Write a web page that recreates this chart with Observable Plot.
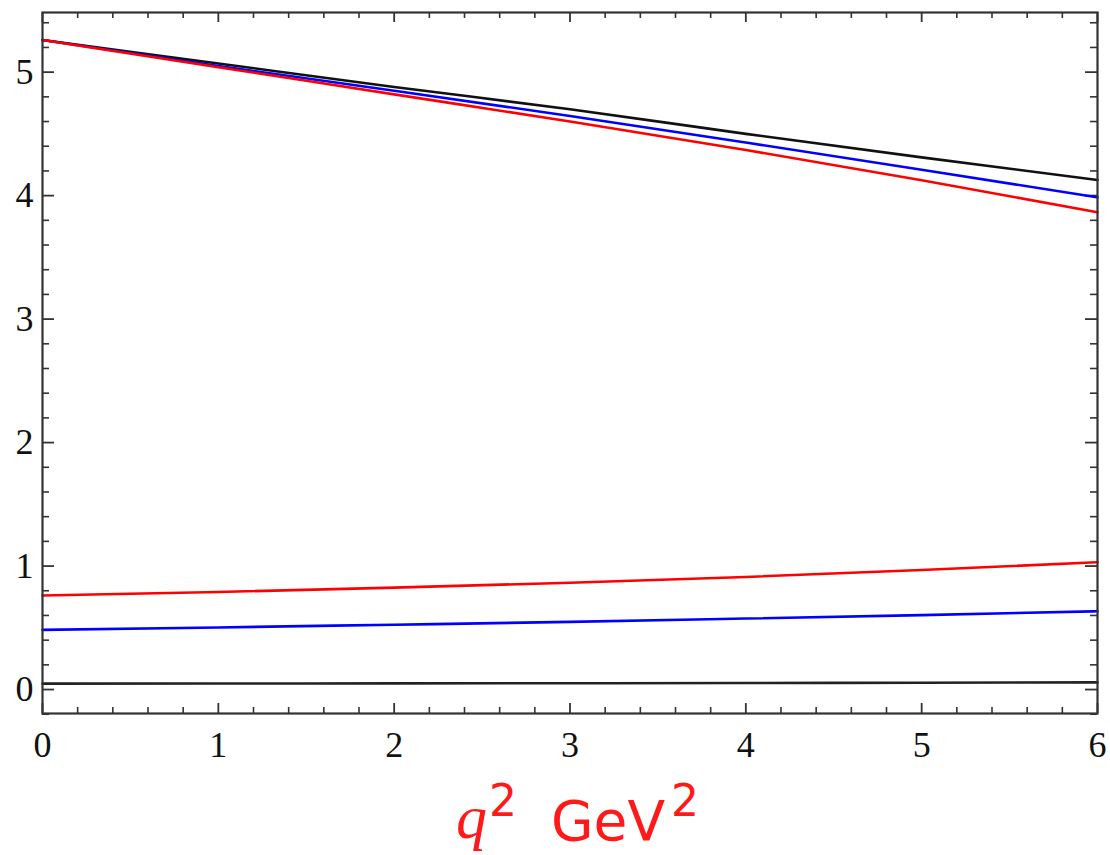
<!DOCTYPE html>
<html><head><meta charset="utf-8">
<script src="https://cdn.jsdelivr.net/npm/d3@7"></script>
<script src="https://cdn.jsdelivr.net/npm/@observablehq/plot@0.6"></script>
<style>
body{margin:0;background:#fff}
svg text.tick-num{font-family:"Liberation Serif","Times New Roman",Times,serif}
</style>
</head><body><div id="chart"></div>
<script>
// q^2 grid (GeV^2)
const q2 = [0, 1, 2, 3, 4, 5, 6];
// upper curves
const blackUpper = [5.26, 5.07, 4.88, 4.70, 4.50, 4.31, 4.127];
const blueUpper  = [5.26, 5.05, 4.85, 4.645, 4.43, 4.21, 3.986];
const redUpper   = [5.26, 5.04, 4.82, 4.60, 4.37, 4.125, 3.865];
// lower curves
const redLower   = [0.761, 0.79, 0.825, 0.865, 0.912, 0.968, 1.031];
const blueLower  = [0.483, 0.503, 0.525, 0.548, 0.575, 0.603, 0.634];
const blackLower = [0.048, 0.049, 0.050, 0.051, 0.053, 0.055, 0.058];

const xMajor = [0, 1, 2, 3, 4, 5, 6];
const yMajor = [0, 1, 2, 3, 4, 5];
const xMinor = d3.range(0, 31).map(i => i / 5).filter(v => !Number.isInteger(v));
const yMinor = d3.range(-1, 28).map(i => i / 5).filter(v => !Number.isInteger(v));

const series = [
  {values: blackLower, color: "#222"},
  {values: blackUpper, color: "#111"},
  {values: blueLower, color: "#0000ff"},
  {values: blueUpper, color: "#0000ff"},
  {values: redLower, color: "#ff0000"},
  {values: redUpper, color: "#ff0000"}
];

const W = 1110, H = 855;
const mL = 42, mR = 13, mT = 12, mB = 142;
const PW = W - mL - mR, PH = H - mT - mB;
const frameColor = "#333";
const serif = "'Liberation Serif', 'Times New Roman', Times, serif";

const lineMarks = series.map(s =>
  Plot.line(q2.map((x, i) => ({x, y: s.values[i]})),
    {x: "x", y: "y", stroke: s.color, strokeWidth: 2.6, curve: "monotone-x"}));

const chart = Plot.plot({
  width: W, height: H,
  marginLeft: mL, marginRight: mR, marginTop: mT, marginBottom: mB,
  x: {domain: [0, 6]},
  y: {domain: [-0.194, 5.483]},
  style: {background: "#fff", overflow: "visible"},
  marks: [
    Plot.tickX(xMajor, {x: d => d, insetTop: PH - 10, stroke: frameColor, strokeWidth: 1.8}),
    Plot.tickX(xMajor, {x: d => d, insetBottom: PH - 10, stroke: frameColor, strokeWidth: 1.8}),
    Plot.tickX(xMinor, {x: d => d, insetTop: PH - 6, stroke: frameColor, strokeWidth: 1.6}),
    Plot.tickX(xMinor, {x: d => d, insetBottom: PH - 6, stroke: frameColor, strokeWidth: 1.6}),
    Plot.tickY(yMajor, {y: d => d, insetRight: PW - 12, stroke: frameColor, strokeWidth: 1.8}),
    Plot.tickY(yMajor, {y: d => d, insetLeft: PW - 12, stroke: frameColor, strokeWidth: 1.8}),
    Plot.tickY(yMinor, {y: d => d, insetRight: PW - 7, stroke: frameColor, strokeWidth: 1.6}),
    Plot.tickY(yMinor, {y: d => d, insetLeft: PW - 7, stroke: frameColor, strokeWidth: 1.6}),
    ...lineMarks,
    Plot.frame({stroke: frameColor, strokeWidth: 2.2}),
    Plot.axisX({ticks: xMajor, tickSize: 0, tickPadding: 18, fontSize: 36,
      fontFamily: serif, fill: "#111", tickFormat: d => String(d), label: null}),
    Plot.axisY({ticks: yMajor, tickSize: 0, tickPadding: 9, fontSize: 36,
      fontFamily: serif, fill: "#111", tickFormat: d => String(d), label: null})
  ]
});

const svg = d3.select(chart);
svg.selectAll("text").classed("tick-num", true);

// x-axis title: q^2  GeV^2 (red)
const red = "#ff1a1a";
const sans = "'DejaVu Sans', Verdana, sans-serif";
function addText(x, y, str, size, family, style) {
  svg.append("text").attr("x", x).attr("y", y).attr("fill", red)
    .attr("text-anchor", "start")
    .attr("font-size", size).attr("font-family", family)
    .attr("font-style", style || "normal").text(str);
}
addText(456, 838, "q", 62, serif, "italic");
addText(489, 816, "2", 44, sans);
addText(551, 840, "GeV", 55, sans);
addText(671, 816, "2", 44, sans);

document.getElementById("chart").append(chart);
</script>
</body></html>
